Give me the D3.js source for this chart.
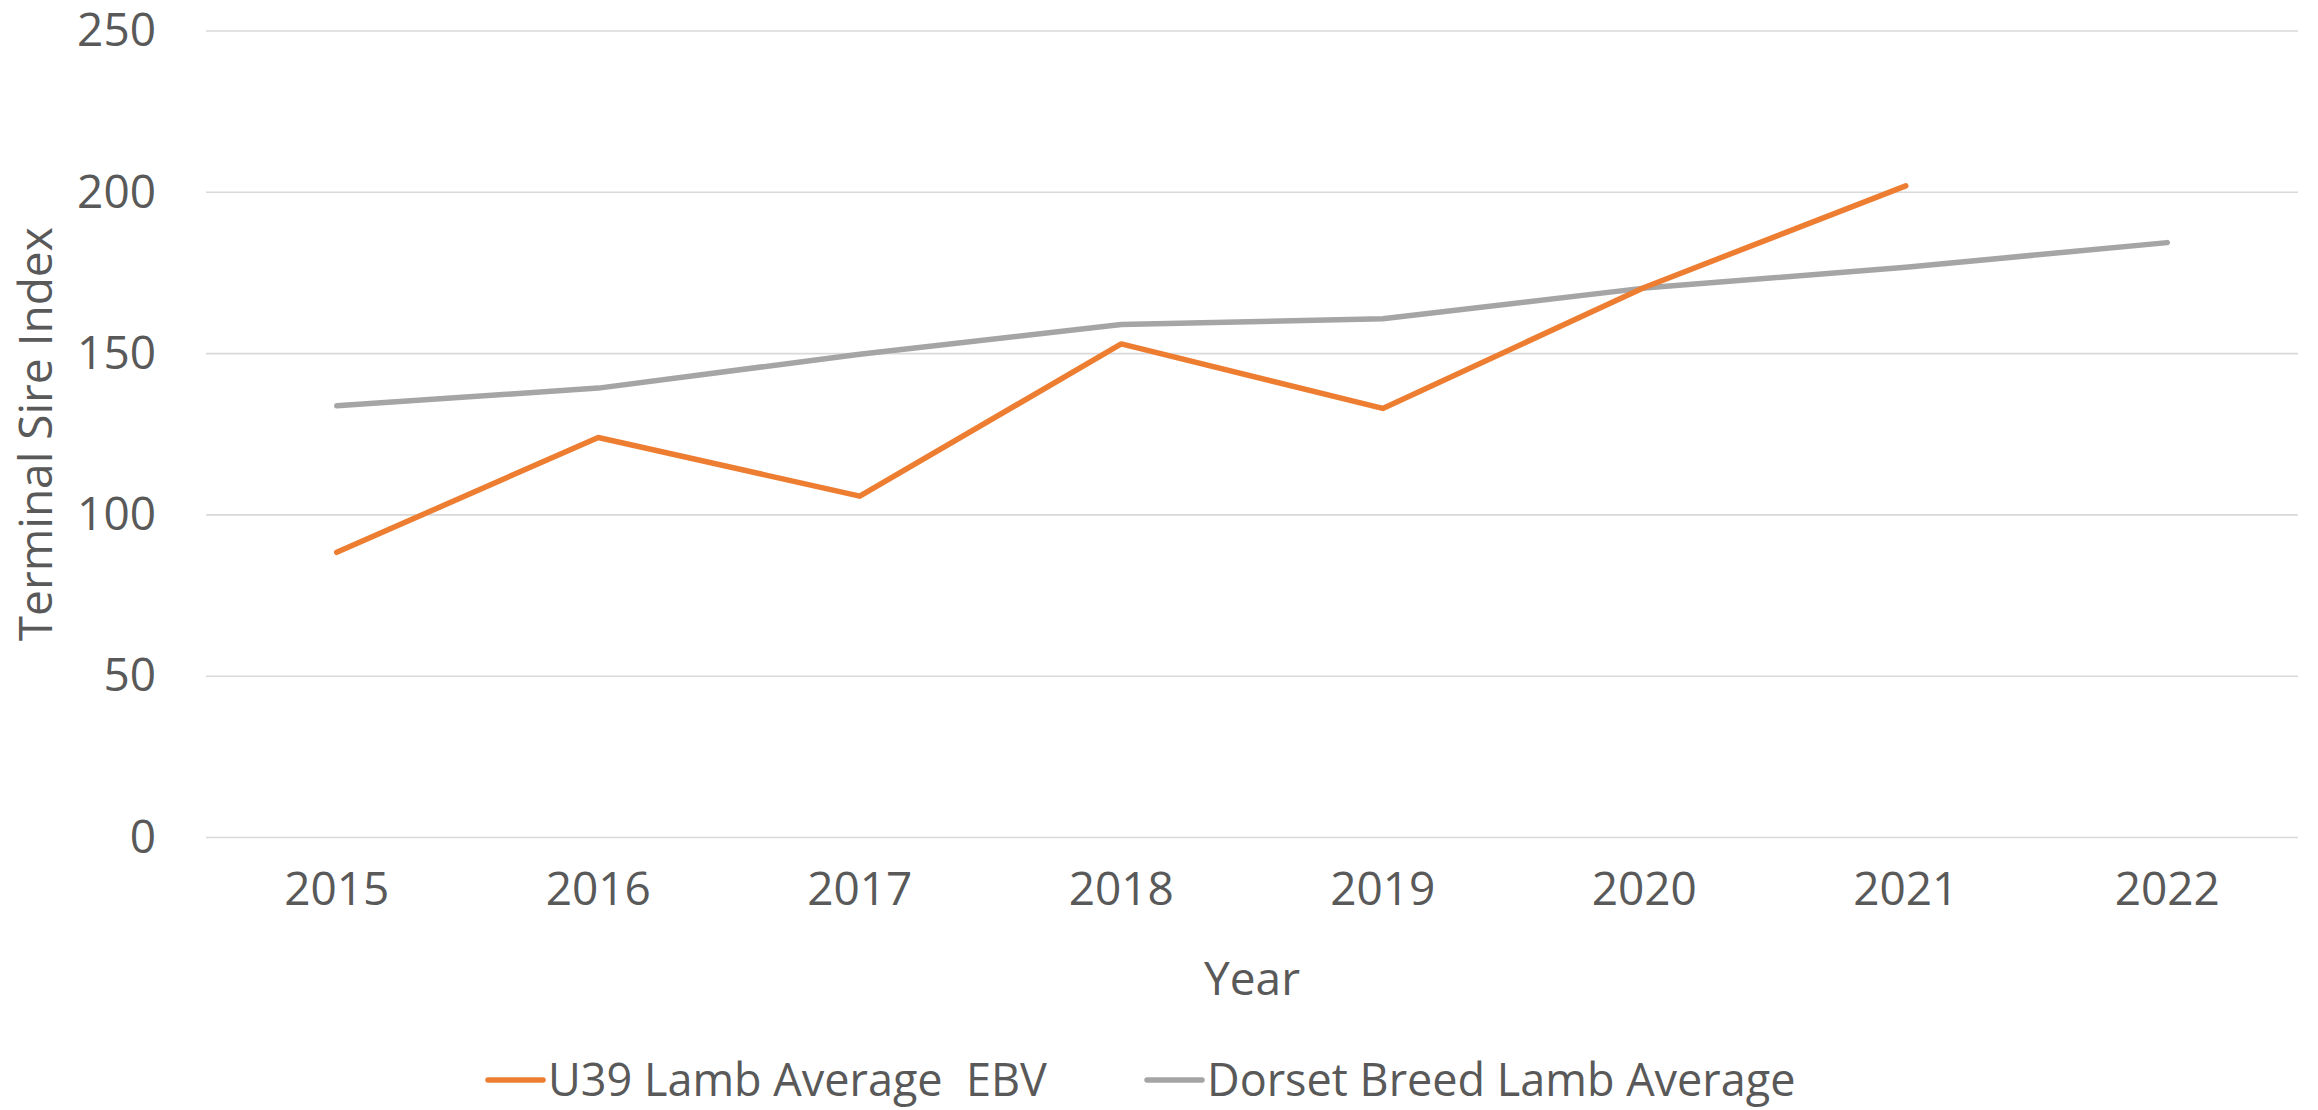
<!DOCTYPE html>
<html>
<head>
<meta charset="utf-8">
<script src="https://cdn.jsdelivr.net/npm/d3@7"></script>
<style>
  html, body { margin: 0; padding: 0; background: #fff; }
  text { font-family: "Open Sans", "Noto Sans", sans-serif; fill: #595959; }
</style>
</head>
<body>
<svg id="chart" width="2318" height="1110"></svg>
<script>
// DATA
var years = ["2015", "2016", "2017", "2018", "2019", "2020", "2021", "2022"];
var u39Values = [88.4, 124, 105.8, 153, 133, 170.5, 202, null];
var dorsetValues = [133.8, 139.3, 149.8, 159, 160.8, 170.3, 176.8, 184.4];
var yTicks = [0, 50, 100, 150, 200, 250];

var seriesNames = ["U39 Lamb Average  EBV", "Dorset Breed Lamb Average"];
var seriesColors = ["#ED7D31", "#A5A5A5"];

// LAYOUT
var svg = d3.select("#chart");
var plot = {left: 206, right: 2298, top: 31, bottom: 837.5};

var x = d3.scaleBand().domain(years).range([plot.left, plot.right]);
var y = d3.scaleLinear().domain([0, 250]).range([plot.bottom, plot.top]);

// gridlines
svg.append("g")
    .selectAll("line")
    .data(yTicks)
    .join("line")
    .attr("x1", plot.left)
    .attr("x2", plot.right)
    .attr("y1", function(d) { return y(d); })
    .attr("y2", function(d) { return y(d); })
    .attr("stroke", "#d9d9d9")
    .attr("stroke-width", 1.6);

// y axis labels
var yAxis = d3.axisLeft(y).tickValues(yTicks).tickSize(0).tickPadding(0);
var yg = svg.append("g")
    .attr("transform", "translate(156,0)")
    .call(yAxis);
yg.select(".domain").remove();
yg.selectAll("text")
    .attr("font-size", 46)
    .attr("fill", "#595959")
    .style("font-family", '"Open Sans", sans-serif');

// x axis labels
var xAxis = d3.axisBottom(x).tickSize(0).tickPadding(0);
var xg = svg.append("g")
    .attr("transform", "translate(0,872)")
    .call(xAxis);
xg.select(".domain").remove();
xg.selectAll("text")
    .attr("font-size", 46)
    .attr("fill", "#595959")
    .style("font-family", '"Open Sans", sans-serif');

// axis titles
svg.append("text")
    .attr("x", (plot.left + plot.right) / 2)
    .attr("y", 995)
    .attr("text-anchor", "middle")
    .attr("font-size", 46)
    .text("Year");

svg.append("text")
    .attr("transform", "translate(52," + ((plot.top + plot.bottom) / 2) + ") rotate(-90)")
    .attr("text-anchor", "middle")
    .attr("font-size", 46)
    .text("Terminal Sire Index");

// lines
var line = d3.line()
    .defined(function(d) { return d.v != null; })
    .x(function(d) { return x(d.year) + x.bandwidth() / 2; })
    .y(function(d) { return y(d.v); });

function toPoints(values) {
    return years.map(function(yr, i) { return {year: yr, v: values[i]}; });
}

// gray drawn first, orange on top
svg.append("path")
    .datum(toPoints(dorsetValues))
    .attr("d", line)
    .attr("fill", "none")
    .attr("stroke", seriesColors[1])
    .attr("stroke-width", 5.5)
    .attr("stroke-linecap", "round")
    .attr("stroke-linejoin", "round");

svg.append("path")
    .datum(toPoints(u39Values))
    .attr("d", line)
    .attr("fill", "none")
    .attr("stroke", seriesColors[0])
    .attr("stroke-width", 5.5)
    .attr("stroke-linecap", "round")
    .attr("stroke-linejoin", "round");

// LEGEND
var legendItems = [
    {name: seriesNames[0], color: seriesColors[0], x: 488},
    {name: seriesNames[1], color: seriesColors[1], x: 1147}
];
var lg = svg.append("g").attr("class", "legend");
legendItems.forEach(function(item) {
    lg.append("line")
        .attr("x1", item.x)
        .attr("x2", item.x + 55)
        .attr("y1", 1080)
        .attr("y2", 1080)
        .attr("stroke", item.color)
        .attr("stroke-width", 5.5)
        .attr("stroke-linecap", "round");
    lg.append("text")
        .attr("x", item.x + 60)
        .attr("y", 1080)
        .attr("dy", "0.35em")
        .attr("font-size", 45)
        .style("white-space", "pre")
        .attr("xml:space", "preserve")
        .text(item.name);
});
</script>
</body>
</html>
